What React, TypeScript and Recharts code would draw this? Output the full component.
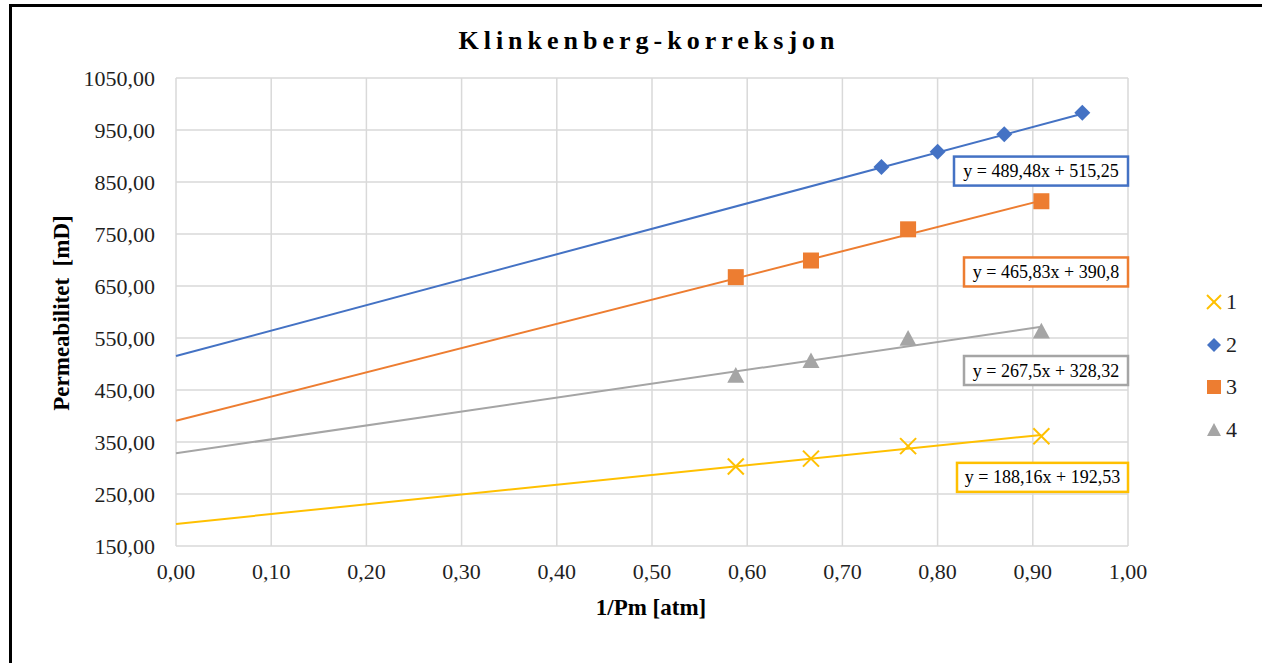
import { ScatterChart, Scatter, XAxis, YAxis, CartesianGrid, ReferenceDot } from 'recharts'

const xTicks = [0, 0.1, 0.2, 0.3, 0.4, 0.5, 0.6, 0.7, 0.8, 0.9, 1.0]
const yTicks = [150, 250, 350, 450, 550, 650, 750, 850, 950, 1050]

const seriesNames = ['1', '2', '3', '4']

const x1 = [0.588, 0.667, 0.769, 0.909]
const y1 = [303, 318, 342, 361]
const x2 = [0.741, 0.8, 0.87, 0.952]
const y2 = [879, 908, 942, 983]
const x3 = [0.588, 0.667, 0.769, 0.909]
const y3 = [667, 699, 759, 813]
const x4 = [0.588, 0.667, 0.769, 0.909]
const y4 = [478, 506, 549, 563]

// lineære trendlinjer fra Excel (stigning, konstantledd)
const slopes = [188.16, 489.48, 465.83, 267.5]
const intercepts = [192.53, 515.25, 390.8, 328.32]
const equations = ['y = 188,16x + 192,53', 'y = 489,48x + 515,25', 'y = 465,83x + 390,8', 'y = 267,5x + 328,32']
const equationAnchorY = [282, 871, 677, 487.5]

const colors = ['#FFC000', '#4472C4', '#ED7D31', '#A5A5A5']
const boxWidths = [171, 174, 164, 164]
const font = '"Liberation Serif", "DejaVu Serif", serif'

const fmt = (v: number) => v.toFixed(2).replace('.', ',')

const xs = [x1, x2, x3, x4]
const ys = [y1, y2, y3, y4]
const points = xs.map((arr, i) => arr.map((x, j) => ({ x, y: ys[i][j] })))
const trends = xs.map((arr, i) => {
  const xmax = Math.max(...arr)
  return [
    { x: 0, y: intercepts[i] },
    { x: xmax, y: slopes[i] * xmax + intercepts[i] },
  ]
})

function Marker({ kind, cx, cy, s = 8 }: { kind: number; cx: number; cy: number; s?: number }) {
  const c = colors[kind]
  if (kind === 0) {
    return (
      <g stroke={c} strokeWidth={2}>
        <line x1={cx - s} y1={cy - s} x2={cx + s} y2={cy + s} />
        <line x1={cx - s} y1={cy + s} x2={cx + s} y2={cy - s} />
      </g>
    )
  }
  if (kind === 1) {
    return <polygon points={`${cx},${cy - s} ${cx + s},${cy} ${cx},${cy + s} ${cx - s},${cy}`} fill={c} />
  }
  if (kind === 2) {
    return <rect x={cx - s} y={cy - s} width={s * 2} height={s * 2} fill={c} />
  }
  return <polygon points={`${cx},${cy - s} ${cx + s},${cy + s * 0.85} ${cx - s},${cy + s * 0.85}`} fill={c} />
}

function EquationBox({ cx, cy, i }: { cx?: number; cy?: number; i: number }) {
  if (cx == null || cy == null) return null
  const w = boxWidths[i]
  const h = 29
  return (
    <g>
      <rect x={cx - w} y={cy - h / 2} width={w} height={h} fill="#fff" stroke={colors[i]} strokeWidth={2.5} />
      <text x={cx - w / 2} y={cy + 6} textAnchor="middle" fontFamily={font} fontSize={18} fill="#000">
        {equations[i]}
      </text>
    </g>
  )
}

export default function App() {
  const tick = { fontSize: 22, fill: '#1f1f1f', fontFamily: font }
  return (
    <div style={{ position: 'absolute', left: 0, top: 0, width: 1262, height: 663, background: '#fff', overflow: 'hidden' }}>
      <div
        style={{
          position: 'absolute',
          left: 9,
          top: 4,
          width: 1262,
          height: 663,
          borderTop: '3px solid #000',
          borderLeft: '3px solid #000',
        }}
      />
      <div style={{ position: 'absolute', left: 0, top: 0 }}>
        <ScatterChart width={1262} height={663} margin={{ top: 78, right: 134, bottom: 77, left: 96 }}>
          <CartesianGrid stroke="#d9d9d9" strokeWidth={1.5} />
          <XAxis
            type="number"
            dataKey="x"
            domain={[0, 1]}
            ticks={xTicks}
            interval={0}
            tickFormatter={fmt}
            axisLine={false}
            tickLine={false}
            tickSize={0}
            tickMargin={17}
            height={40}
            tick={tick}
          />
          <YAxis
            type="number"
            dataKey="y"
            domain={[150, 1050]}
            ticks={yTicks}
            interval={0}
            tickFormatter={fmt}
            axisLine={false}
            tickLine={false}
            tickSize={0}
            tickMargin={21}
            width={80}
            tick={tick}
          />
          {trends.map((t, i) => (
            <Scatter
              key={'t' + i}
              data={t}
              line={{ stroke: colors[i], strokeWidth: 2 }}
              shape={() => <g />}
              isAnimationActive={false}
            />
          ))}
          {points.map((p, i) => (
            <Scatter
              key={'p' + i}
              name={seriesNames[i]}
              data={p}
              shape={(props: any) => <Marker kind={i} cx={props.cx} cy={props.cy} s={i === 3 ? 8.5 : 8} />}
              isAnimationActive={false}
            />
          ))}
          {equations.map((_, i) => (
            <ReferenceDot
              key={'e' + i}
              x={1}
              y={equationAnchorY[i]}
              ifOverflow="visible"
              shape={(props: any) => <EquationBox cx={props.cx} cy={props.cy} i={i} />}
            />
          ))}
        </ScatterChart>
      </div>

      <div
        style={{
          position: 'absolute',
          left: 649,
          top: 41,
          transform: 'translate(-50%, -50%)',
          fontFamily: font,
          fontWeight: 'bold',
          fontSize: 26,
          letterSpacing: 5,
          whiteSpace: 'nowrap',
          color: '#000',
        }}
      >
        Klinkenberg-korreksjon
      </div>
      <div
        style={{
          position: 'absolute',
          left: 62,
          top: 313,
          transform: 'translate(-50%, -50%) rotate(-90deg)',
          fontFamily: font,
          fontWeight: 'bold',
          fontSize: 23,
          whiteSpace: 'pre',
          color: '#000',
        }}
      >
        {'Permeabilitet  [mD]'}
      </div>
      <div
        style={{
          position: 'absolute',
          left: 651,
          top: 608,
          transform: 'translate(-50%, -50%)',
          fontFamily: font,
          fontWeight: 'bold',
          fontSize: 23,
          whiteSpace: 'nowrap',
          color: '#000',
        }}
      >
        1/Pm [atm]
      </div>

      <div style={{ position: 'absolute', left: 1205, top: 281, fontFamily: font, fontSize: 22, color: '#1f1f1f' }}>
        {seriesNames.map((n, i) => (
          <div key={n} style={{ display: 'flex', alignItems: 'center', height: 42.5 }}>
            <svg width={18} height={18}>
              <Marker kind={i} cx={9} cy={9} s={7} />
            </svg>
            <span style={{ marginLeft: 3 }}>{n}</span>
          </div>
        ))}
      </div>
    </div>
  )
}
